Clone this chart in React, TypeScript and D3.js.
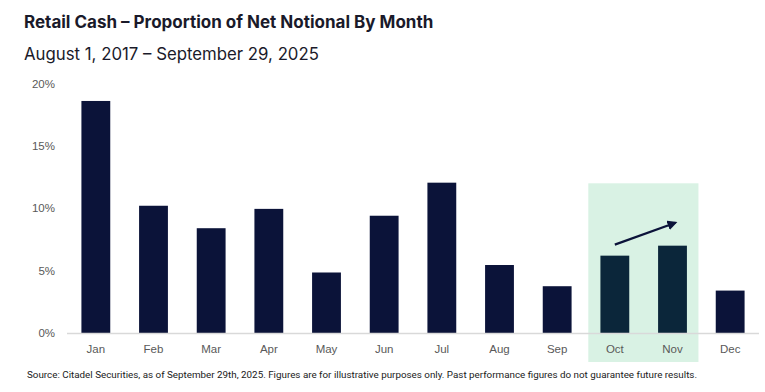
import React, { useEffect, useRef } from "react";
import * as d3 from "d3";

const months = ["Jan", "Feb", "Mar", "Apr", "May", "Jun", "Jul", "Aug", "Sep", "Oct", "Nov", "Dec"];
const shares = [18.6, 10.2, 8.4, 9.95, 4.85, 9.4, 12.05, 5.45, 3.75, 6.2, 7.0, 3.4];
const highlighted = ["Oct", "Nov"];
const yTicks = [0, 5, 10, 15, 20];
const highlightTop = 12;

const width = 765;
const height = 392;

const App = () => {
  const svgRef = useRef<SVGSVGElement | null>(null);

  useEffect(() => {
    const svg = d3.select(svgRef.current);
    svg.selectAll("*").remove();

    const x = d3.scaleBand().domain(months).range([67, 759]).paddingInner(0.5).paddingOuter(0.25);
    const y = d3.scaleLinear().domain([0, 20]).range([333, 83.5]);

    // titles
    svg
      .append("text")
      .attr("x", 24)
      .attr("y", 28)
      .attr("font-family", "Inter, sans-serif")
      .attr("font-weight", 700)
      .attr("font-size", 17)
      .attr("fill", "#1a1a2a")
      .text("Retail Cash – Proportion of Net Notional By Month");

    svg
      .append("text")
      .attr("x", 24)
      .attr("y", 60)
      .attr("font-family", "Inter, sans-serif")
      .attr("font-size", 16.8)
      .attr("fill", "#1a1a2a")
      .text("August 1, 2017 – September 29, 2025");

    // highlight box behind Oct / Nov
    const step = x.step();
    const hx0 = (x(highlighted[0]) as number) - step * 0.21;
    const hx1 = (x(highlighted[highlighted.length - 1]) as number) + x.bandwidth() + step * 0.2;
    svg
      .append("rect")
      .attr("x", hx0)
      .attr("y", y(highlightTop))
      .attr("width", hx1 - hx0)
      .attr("height", 362 - y(highlightTop))
      .attr("fill", "#d9f2e4");

    // y axis labels
    svg
      .append("g")
      .selectAll("text")
      .data(yTicks)
      .join("text")
      .attr("x", 55)
      .attr("y", (d) => y(d))
      .attr("dy", "0.35em")
      .attr("text-anchor", "end")
      .attr("font-family", "Liberation Sans, Arial, sans-serif")
      .attr("font-size", 11.5)
      .attr("fill", "#595959")
      .text((d) => `${d}%`);

    // bars
    svg
      .append("g")
      .selectAll("rect")
      .data(months)
      .join("rect")
      .attr("x", (d) => x(d) as number)
      .attr("width", x.bandwidth())
      .attr("y", (d, i) => y(shares[i]))
      .attr("height", (d, i) => y(0) - y(shares[i]))
      .attr("fill", (d) => (highlighted.includes(d) ? "#0b263a" : "#0b1339"));

    // baseline
    svg
      .append("line")
      .attr("x1", 67)
      .attr("x2", 759)
      .attr("y1", y(0) + 0.5)
      .attr("y2", y(0) + 0.5)
      .attr("stroke", "#d9d9d9")
      .attr("stroke-width", 1.5);

    // x labels
    svg
      .append("g")
      .selectAll("text")
      .data(months)
      .join("text")
      .attr("x", (d) => (x(d) as number) + x.bandwidth() / 2)
      .attr("y", 353)
      .attr("text-anchor", "middle")
      .attr("font-family", "Liberation Sans, Arial, sans-serif")
      .attr("font-size", 11.5)
      .attr("fill", "#595959")
      .text((d) => d);

    // arrow
    svg
      .append("defs")
      .append("marker")
      .attr("id", "arrowHead")
      .attr("viewBox", "0 0 10 10")
      .attr("refX", 8)
      .attr("refY", 5)
      .attr("markerWidth", 4.5)
      .attr("markerHeight", 4.5)
      .attr("orient", "auto")
      .append("path")
      .attr("d", "M0,0 L10,5 L0,10 z")
      .attr("fill", "#0b1339");

    const ax0 = (x("Oct") as number) + x.bandwidth() / 2;
    const ax1 = (x("Nov") as number) + x.bandwidth() / 2 + 3;
    svg
      .append("line")
      .attr("x1", ax0)
      .attr("y1", y(shares[9]) - 11)
      .attr("x2", ax1)
      .attr("y2", y(shares[10]) - 23)
      .attr("stroke", "#0b1339")
      .attr("stroke-width", 2.2)
      .attr("marker-end", "url(#arrowHead)");

    // source note
    svg
      .append("text")
      .attr("x", 27)
      .attr("y", 378)
      .attr("font-family", "Roboto, sans-serif")
      .attr("font-size", 9)
      .attr("fill", "#1a1a1a")
      .attr("textLength", 670)
      .attr("lengthAdjust", "spacingAndGlyphs")
      .text(
        "Source: Citadel Securities, as of September 29th, 2025. Figures are for illustrative purposes only. Past performance figures do not guarantee future results."
      );
  }, []);

  return (
    <svg
      ref={svgRef}
      width={width}
      height={height}
      style={{ position: "absolute", left: 0, top: 0, background: "#fff" }}
    />
  );
};

export default App;
